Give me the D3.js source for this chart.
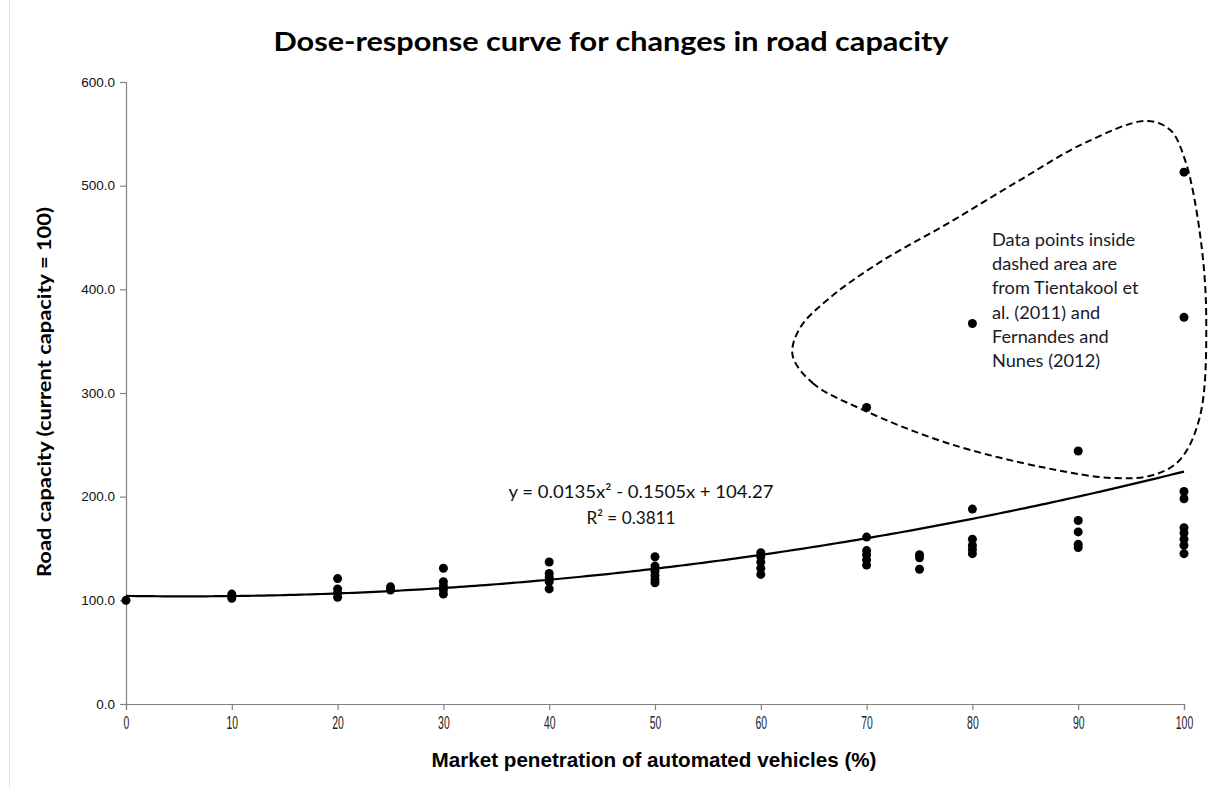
<!DOCTYPE html>
<html>
<head>
<meta charset="utf-8">
<script src="https://cdn.jsdelivr.net/npm/d3@7"></script>
<style>
  html, body { margin: 0; padding: 0; background: #fff; }
  svg { display: block; }
</style>
</head>
<body>
<svg id="chart" width="1213" height="788"></svg>
<script>
// Market penetration (%) and observed road capacity (current capacity = 100)
const penetration = [
  0,
  10, 10,
  20, 20, 20, 20,
  25, 25,
  30, 30, 30, 30, 30,
  40, 40, 40, 40, 40,
  50, 50, 50, 50, 50, 50,
  60, 60, 60, 60, 60,
  70, 70, 70, 70, 70, 70,
  75, 75, 75,
  80, 80, 80, 80, 80, 80,
  90, 90, 90, 90, 90,
  100, 100, 100, 100, 100, 100, 100, 100, 100
];
const capacity = [
  100,
  102, 106,
  121, 111, 107, 103,
  113, 110,
  131, 118, 114, 110, 106,
  137, 126, 122, 118, 111,
  142, 133, 128, 124, 120, 117,
  146, 142, 137, 131, 125,
  161, 148, 144, 139, 134, 286,
  144, 141, 130,
  188, 159, 153, 149, 145, 367,
  177, 166, 154, 151, 244,
  205, 198, 170, 165, 159, 153, 145, 513, 373
];

// Quadratic trend: y = a*x^2 + b*x + c
const trendCoef = [0.0135, -0.1505, 104.27];
const trendLabel = ["y = 0.0135x\u00B2 - 0.1505x + 104.27", "R\u00B2 = 0.3811"];

// Outline (in data units) around the points from the two cited studies
const outlineX = [63.0, 64.9, 69.7, 77.6, 87.0, 93.3, 97.1, 99.6, 101.5, 102.1, 101.5, 100.1, 98.7, 96.4, 90.6, 84.5, 77.9, 71.3, 66.5, 63.7];
const outlineY = [336.6, 309.6, 283.6, 251.8, 227.6, 218.0, 220.9, 235.4, 277.1, 373.6, 454.3, 524.7, 553.7, 562.4, 541.1, 505.4, 464.9, 426.4, 391.6, 362.7];

const noteLines = [
  "Data points inside",
  "dashed area are",
  "from Tientakool et",
  "al. (2011) and",
  "Fernandes and",
  "Nunes (2012)"
];

const xTicks = [0, 10, 20, 30, 40, 50, 60, 70, 80, 90, 100];
const yTicks = [0, 100, 200, 300, 400, 500, 600];

const titleText = "Dose-response curve for changes in road capacity";
const xTitle = "Market penetration of automated vehicles (%)";
const yTitle = "Road capacity (current capacity = 100)";

const svg = d3.select("#chart");
const W = 1213, H = 788;
const margin = { left: 126, right: 29, top: 82, bottom: 84 };

const x = d3.scaleLinear().domain([0, 100]).range([margin.left, W - margin.right]);
const y = d3.scaleLinear().domain([0, 600]).range([H - margin.bottom, margin.top]);

// faint frame edge on the left
svg.append("line")
  .attr("x1", 9.5).attr("x2", 9.5).attr("y1", 0).attr("y2", H)
  .attr("stroke", "#e2e2e2").attr("stroke-width", 1);

const bodyFont = "Lato, 'Open Sans', sans-serif";
const narrowFont = "'Liberation Sans Narrow', 'Arial Narrow', 'Liberation Sans', sans-serif";

// Title
svg.append("text")
  .attr("x", 611).attr("y", 51)
  .attr("text-anchor", "middle")
  .attr("font-family", bodyFont)
  .attr("font-weight", "bold")
  .attr("font-size", 26)
  .attr("fill", "#000")
  .attr("textLength", 675)
  .attr("lengthAdjust", "spacingAndGlyphs")
  .text(titleText);

// Y axis
const yAxis = svg.append("g")
  .attr("transform", `translate(${margin.left},0)`)
  .call(d3.axisLeft(y).tickValues(yTicks).tickSize(6).tickPadding(5).tickFormat(d3.format(".1f")));
yAxis.select(".domain").attr("stroke", "#808080").attr("stroke-width", 1.2);
yAxis.selectAll(".tick line").attr("stroke", "#808080").attr("stroke-width", 1.2);
yAxis.selectAll(".tick text")
  .style("font-family", "'Liberation Sans', Arial, sans-serif")
  .style("font-size", "13.5px")
  .attr("fill", "#111");

// X axis
const xAxis = svg.append("g")
  .attr("transform", `translate(0,${y(0)})`)
  .call(d3.axisBottom(x).tickValues(xTicks).tickSize(6).tickPadding(7).tickFormat(d3.format("d")));
xAxis.select(".domain").attr("stroke", "#808080").attr("stroke-width", 1.2);
xAxis.selectAll(".tick line").attr("stroke", "#808080").attr("stroke-width", 1.2);
xAxis.selectAll(".tick text")
  .style("font-family", narrowFont)
  .style("font-size", "17.5px")
  .attr("fill", "#222")
  .attr("textLength", d => String(d).length * 5.8)
  .attr("lengthAdjust", "spacingAndGlyphs");

// Axis titles
svg.append("text")
  .attr("x", 654).attr("y", 767)
  .attr("text-anchor", "middle")
  .attr("font-family", narrowFont)
  .attr("font-weight", "bold")
  .attr("font-size", 21)
  .attr("fill", "#000")
  .attr("textLength", 445)
  .attr("lengthAdjust", "spacingAndGlyphs")
  .text(xTitle);

svg.append("text")
  .attr("transform", "translate(51,392) rotate(-90)")
  .attr("text-anchor", "middle")
  .attr("font-family", bodyFont)
  .attr("font-weight", "bold")
  .attr("font-size", 18)
  .attr("fill", "#000")
  .attr("textLength", 370)
  .attr("lengthAdjust", "spacingAndGlyphs")
  .text(yTitle);

// Trend curve
const trend = d3.range(0, 100.01, 0.5).map(v => [v, trendCoef[0] * v * v + trendCoef[1] * v + trendCoef[2]]);
svg.append("path")
  .datum(trend)
  .attr("fill", "none")
  .attr("stroke", "#000")
  .attr("stroke-width", 2.2)
  .attr("d", d3.line().x(d => x(d[0])).y(d => y(d[1])));

// Observations
svg.append("g").selectAll("circle")
  .data(penetration.map((p, i) => [p, capacity[i]]))
  .join("circle")
  .attr("cx", d => x(d[0]))
  .attr("cy", d => y(d[1]))
  .attr("r", 4.5)
  .attr("fill", "#000");

// Dashed outline
svg.append("path")
  .datum(outlineX.map((v, i) => [v, outlineY[i]]))
  .attr("fill", "none")
  .attr("stroke", "#000")
  .attr("stroke-width", 2)
  .attr("stroke-dasharray", "7,4")
  .attr("d", d3.line().x(d => x(d[0])).y(d => y(d[1])).curve(d3.curveCatmullRomClosed.alpha(0.5)));

// Trend equation
svg.append("text")
  .attr("x", 641).attr("y", 498)
  .attr("text-anchor", "middle")
  .attr("font-family", bodyFont)
  .attr("font-size", 18)
  .attr("fill", "#111")
  .attr("textLength", 265)
  .attr("lengthAdjust", "spacingAndGlyphs")
  .text(trendLabel[0]);
svg.append("text")
  .attr("x", 631).attr("y", 524)
  .attr("text-anchor", "middle")
  .attr("font-family", bodyFont)
  .attr("font-size", 18)
  .attr("fill", "#111")
  .attr("textLength", 89)
  .attr("lengthAdjust", "spacingAndGlyphs")
  .text(trendLabel[1]);

// Note
svg.append("g").selectAll("text")
  .data(noteLines)
  .join("text")
  .attr("x", 992)
  .attr("y", (d, i) => 246 + i * 24.2)
  .attr("font-family", bodyFont)
  .attr("font-size", 18.2)
  .attr("fill", "#1a1a2a")
  .text(d => d);
</script>
</body>
</html>
